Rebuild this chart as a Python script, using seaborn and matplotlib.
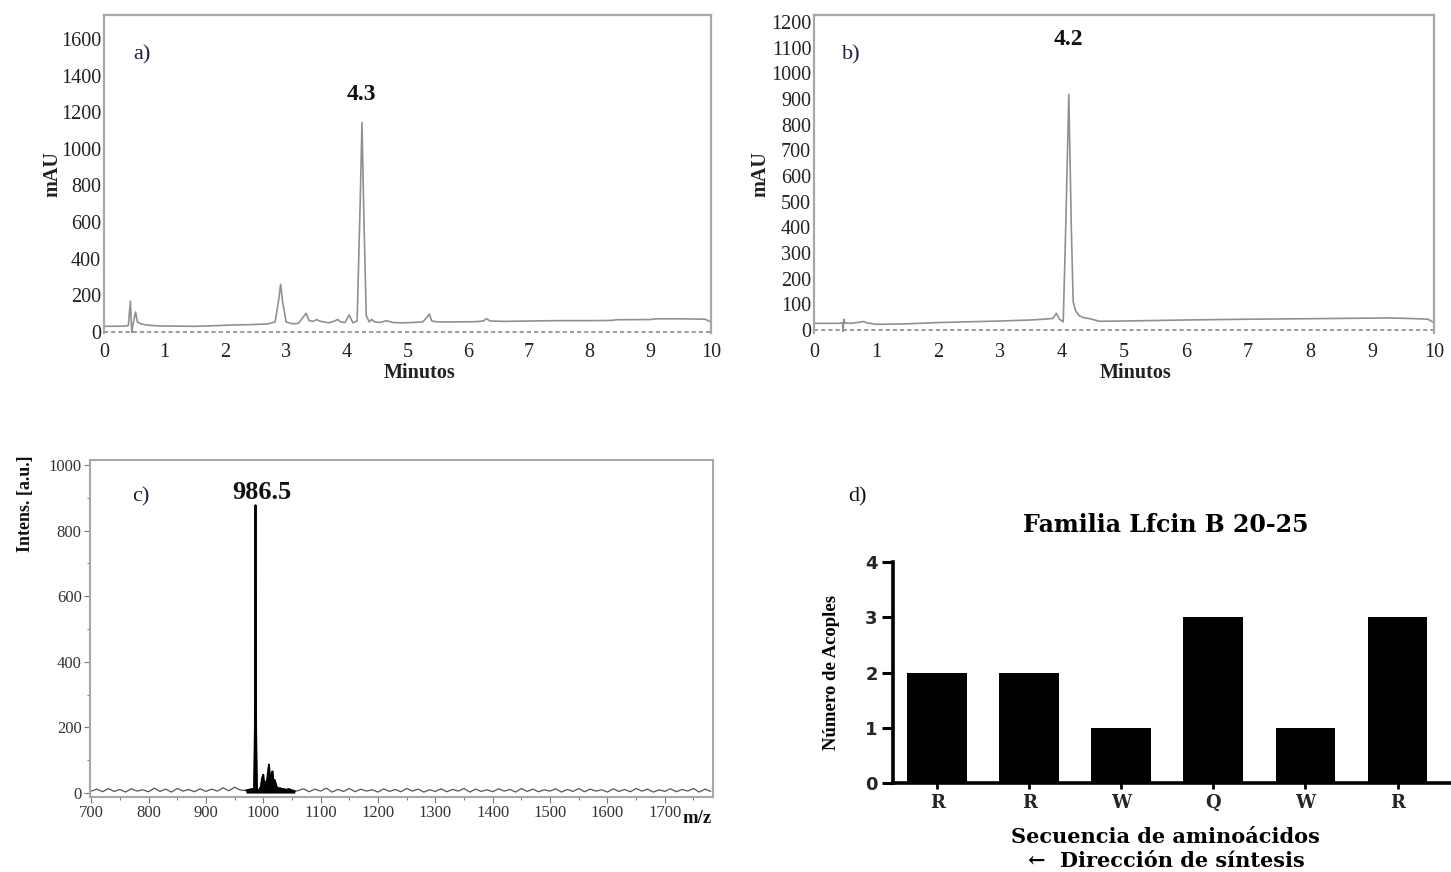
import numpy as np
import pandas as pd
import matplotlib
matplotlib.use("Agg")
import matplotlib.pyplot as plt
import seaborn as sns

# ---------------- data ----------------
# a) chromatogram (min, mAU)
a_time = [0.00, 0.30, 0.40, 0.435, 0.45, 0.46, 0.47, 0.49, 0.52, 0.55, 0.60, 0.70, 0.90,
          1.20, 1.50, 1.80, 2.10, 2.40, 2.70, 2.82, 2.88, 2.91, 2.94, 3.00, 3.10, 3.20,
          3.28, 3.33, 3.38, 3.45, 3.50, 3.55, 3.62, 3.70, 3.80, 3.85, 3.90, 3.97, 4.04,
          4.10, 4.17, 4.22, 4.25, 4.28, 4.32, 4.37, 4.41, 4.46, 4.55, 4.65, 4.75, 4.90,
          5.10, 5.25, 5.32, 5.36, 5.40, 5.50, 5.80, 6.10, 6.25, 6.30, 6.36, 6.60, 7.00,
          7.50, 8.00, 8.35, 8.45, 9.00, 9.10, 9.50, 9.90, 10.00]
a_mau = [31, 32, 34, 169, 40, -5, 30, 60, 109, 55, 45, 38, 33,
         32, 31, 34, 38, 40, 44, 55, 180, 260, 170, 55, 45, 47,
         80, 102, 62, 58, 68, 60, 55, 50, 60, 68, 55, 52, 93,
         50, 60, 700, 1145, 650, 90, 55, 69, 55, 52, 62, 52, 50,
         52, 55, 80, 98, 60, 55, 55, 56, 60, 73, 60, 58, 60,
         62, 62, 63, 67, 68, 72, 72, 70, 55]
a_yticks = [0, 200, 400, 600, 800, 1000, 1200, 1400, 1600]

# b) chromatogram (min, mAU)
b_time = [0.00, 0.40, 0.46, 0.47, 0.48, 0.50, 0.60, 0.75, 0.80, 0.85, 1.00, 1.50, 2.00,
          2.50, 3.00, 3.50, 3.70, 3.85, 3.91, 3.96, 4.02, 4.06, 4.11, 4.15, 4.18, 4.22,
          4.28, 4.35, 4.45, 4.60, 5.00, 6.00, 7.00, 8.00, 9.30, 9.70, 9.90, 10.00]
b_mau = [26, 26, 28, -5, 42, 27, 26, 31, 33, 28, 22, 24, 29,
         32, 35, 39, 42, 45, 65, 42, 32, 400, 918, 400, 110, 74,
         55, 48, 44, 34, 35, 39, 42, 44, 47, 44, 42, 29]
b_yticks = [0, 100, 200, 300, 400, 500, 600, 700, 800, 900, 1000, 1100, 1200]

# c) mass spectrum (m/z, intensity a.u.)
c_noise1_mz = list(range(700, 961, 10))
c_noise1_int = [6, 12, 4, 14, 5, 11, 3, 13, 6, 10,
                4, 15, 5, 12, 3, 14, 6, 11, 4, 13,
                5, 12, 6, 16, 7, 18, 9]
c_peak_mz = [970, 980, 984, 985.5, 986.5, 987.5, 989, 993, 996, 998, 1000, 1002, 1004,
             1006, 1008, 1010, 1012, 1014, 1016, 1018, 1020, 1023, 1026, 1030, 1035,
             1040, 1045, 1050, 1055]
c_peak_int = [8, 12, 10, 200, 877, 200, 8, 10, 20, 45, 56, 20, 35,
              25, 60, 87, 40, 50, 66, 30, 40, 20, 15, 14, 12,
              10, 12, 8, 6]
c_noise2_mz = list(range(1060, 1781, 10))
c_noise2_int = [7, 13, 4, 12, 6, 15, 3, 11, 5, 14,
                4, 12, 6, 10, 3, 13, 5, 11, 4, 14,
                6, 12, 3, 10, 5, 13, 4, 11, 6, 14,
                3, 12, 5, 10, 4, 13, 6, 11, 3, 14,
                5, 12, 4, 10, 6, 13, 3, 11, 5, 14,
                4, 12, 6, 10, 3, 13, 5, 11, 4, 14,
                6, 12, 3, 10, 5, 13, 4, 11, 6, 14,
                3, 12, 5]
c_xticks = [700, 800, 900, 1000, 1100, 1200, 1300, 1400, 1500, 1600, 1700]
c_yticks = [0, 200, 400, 600, 800, 1000]

# d) bar chart
d_labels = ["R", "R", "W", "Q", "W", "R"]
d_values = [2, 2, 1, 3, 1, 3]
d_yticks = [0, 1, 2, 3, 4]

# ---------------- style ----------------
sns.set_theme(style="white")
plt.rcParams["font.family"] = ["Liberation Serif", "DejaVu Serif", "DejaVu Sans"]
plt.rcParams["axes.grid"] = False

W, H = 1451, 872
fig = plt.figure(figsize=(W / 100, H / 100), dpi=100)

def add_ax(left, top, right, bottom):
    return fig.add_axes([left / W, 1 - bottom / H, (right - left) / W, (bottom - top) / H])

frame_col = "#a8a8a8"
trace_col = "#909090"
tick_col = "#222222"

def chrom_panel(ax, t, v, yticks, ylim, letter, letter_xy, peak_lbl, peak_xy, xlab_x, ylab_x):
    df = pd.DataFrame({"t": t, "v": v})
    sns.lineplot(data=df, x="t", y="v", ax=ax, color=trace_col, lw=1.2, estimator=None, sort=False)
    ax.axhline(0, color="#8a8a8a", lw=1.2, ls=(0, (2.5, 1.8)), zorder=1)
    ax.set_xlim(0, 10)
    ax.set_ylim(*ylim)
    ax.set_xticks(range(11))
    ax.set_yticks(yticks)
    ax.set_xticklabels([str(i) for i in range(11)])
    ax.tick_params(axis="both", length=0, labelsize=14.5, colors=tick_col)
    ax.tick_params(axis="x", pad=7)
    ax.tick_params(axis="y", pad=2)
    for s in ["top", "left", "right"]:
        ax.spines[s].set_color(frame_col)
        ax.spines[s].set_linewidth(1.6)
    ax.spines["bottom"].set_visible(False)
    ax.set_xlabel("Minutos", fontsize=14.5, fontweight="bold", color=tick_col)
    ax.xaxis.set_label_coords(xlab_x, -0.094)
    ax.set_ylabel("mAU", fontsize=14.5, fontweight="bold", color=tick_col)
    ax.yaxis.set_label_coords(ylab_x, 0.5)
    ax.text(*letter_xy, letter, fontsize=16, color="#1e1e3c", ha="center", va="center")
    ax.text(*peak_xy, peak_lbl, fontsize=17, fontweight="bold", color="#111111",
            ha="center", va="center")
    ax.patch.set_alpha(0)

# panel a
ax_a = add_ax(104, 15, 711, 333)
chrom_panel(ax_a, a_time, a_mau, a_yticks, (-5.5, 1731), "a)", (0.63, 1513),
            "4.3", (4.24, 1295), 0.52, -0.068)

# panel b
ax_b = add_ax(814, 15, 1434, 333)
chrom_panel(ax_b, b_time, b_mau, b_yticks, (-11.7, 1227), "b)", (0.6, 1071),
            "4.2", (4.1, 1130), 0.518, -0.071)

# panel c
ax_c = add_ax(90, 460, 713, 797)
c_mz = c_noise1_mz + c_peak_mz + c_noise2_mz
c_int = c_noise1_int + c_peak_int + c_noise2_int
dfc = pd.DataFrame({"mz": c_mz, "i": c_int})
sns.lineplot(data=dfc, x="mz", y="i", ax=ax_c, color="#555555", lw=0.9, estimator=None, sort=False)
dfp = pd.DataFrame({"mz": c_peak_mz, "i": c_peak_int})
sns.lineplot(data=dfp, x="mz", y="i", ax=ax_c, color="#000000", lw=1.4, estimator=None, sort=False)
ax_c.fill_between(c_peak_mz, c_peak_int, 0, color="#000000", lw=0)
ax_c.set_xlim(698, 1784)
ax_c.set_ylim(-12, 1015)
ax_c.set_xticks(c_xticks)
ax_c.set_xticks(list(range(750, 1780, 100)), minor=True)
ax_c.set_yticks(c_yticks)
ax_c.set_yticks([100, 300, 500, 700, 900], minor=True)
ax_c.tick_params(axis="both", which="major", direction="out", length=4, width=0.8,
                 color="#777777", labelsize=12, labelcolor="#333333", pad=2,
                 bottom=True, left=True)
ax_c.tick_params(axis="both", which="minor", direction="out", length=2.5, width=0.7,
                 color="#777777", bottom=True, left=True)
for s in ["top", "left", "right", "bottom"]:
    ax_c.spines[s].set_color(frame_col)
    ax_c.spines[s].set_linewidth(1.5)
ax_c.set_xlabel("")
ax_c.set_ylabel("Intens. [a.u.]", fontsize=13, fontweight="bold", color="#111111")
ax_c.yaxis.set_label_coords(-0.09, 0.87)
ax_c.text(0.974, -0.065, "m/z", transform=ax_c.transAxes, fontsize=13.5, fontweight="bold",
          ha="center", va="center", color="#111111")
ax_c.text(787, 902, "c)", fontsize=16, color="#1e1e3c", ha="center", va="center")
ax_c.text(998, 915, "986.5", fontsize=19, fontweight="bold", color="#111111",
          ha="center", va="center")

# panel d
ax_d = add_ax(893, 562, 1450, 783)
dfd = pd.DataFrame({"pos": list(range(len(d_values))), "n": d_values})
sns.barplot(data=dfd, x="pos", y="n", ax=ax_d, color="black", width=0.65,
            saturation=1, linewidth=0, errorbar=None)
ax_d.set_xlim(-0.48, 5.57)
ax_d.set_ylim(0, 4)
ax_d.set_yticks(d_yticks)
ax_d.set_xticks(range(len(d_labels)))
ax_d.set_xticklabels(d_labels, fontsize=13, fontweight="bold",
                     family=["DejaVu Serif"])
ax_d.set_yticklabels([str(v) for v in d_yticks], fontsize=13, fontweight="bold",
                     family=["DejaVu Sans"])
ax_d.tick_params(axis="y", direction="out", length=8, width=2.2, color="black", pad=3, left=True)
ax_d.tick_params(axis="x", direction="out", length=4, width=2, color="black", pad=4, bottom=True)
sns.despine(ax=ax_d)
ax_d.spines["left"].set_linewidth(2.6)
ax_d.spines["bottom"].set_linewidth(2.6)
ax_d.spines["left"].set_color("black")
ax_d.spines["bottom"].set_color("black")
ax_d.set_ylabel("Número de Acoples", fontsize=13.5, fontweight="bold", color="black")
ax_d.yaxis.set_label_coords(-0.095, 0.5)
ax_d.set_xlabel("Secuencia de aminoácidos\n\u2190  Dirección de síntesis", fontsize=15,
                fontweight="bold", family=["DejaVu Serif", "DejaVu Sans"],
                linespacing=1.25, color="black")
ax_d.xaxis.set_label_coords(0.49, -0.197)
fig.text(1166 / W, 1 - 525 / H, "Familia Lfcin B 20-25", fontsize=17, fontweight="bold",
         family=["DejaVu Serif"], ha="center", va="center", color="black")
fig.text(857 / W, 1 - 497 / H, "d)", fontsize=16, ha="center", va="center", color="#111111")

fig.savefig("out.png", dpi=100)
